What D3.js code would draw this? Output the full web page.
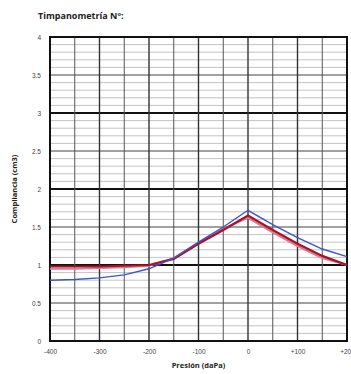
<!DOCTYPE html>
<html>
<head>
<meta charset="utf-8">
<script src="https://cdn.jsdelivr.net/npm/d3@7"></script>
<style>
  body { margin: 0; background: #fff; }
  svg { display: block; font-family: 'Open Sans', 'Liberation Sans', sans-serif; }
</style>
</head>
<body>
<div id="chart"></div>
<script>
// Pressure points (daPa)
const pressures = [-400, -350, -300, -250, -200, -150, -100, -50, 0, 50, 100, 150, 200];
// Compliance curves (cm3)
const blueValues = [0.80, 0.81, 0.83, 0.87, 0.95, 1.09, 1.30, 1.50, 1.72, 1.53, 1.36, 1.21, 1.11];
const redValues  = [0.98, 0.98, 0.98, 0.99, 1.00, 1.08, 1.28, 1.46, 1.65, 1.46, 1.28, 1.12, 1.00];
const pinkValues = [0.95, 0.95, 0.96, 0.97, 0.99, 1.09, 1.29, 1.48, 1.62, 1.43, 1.25, 1.09, 1.00];

const xTicks = [-400, -300, -200, -100, 0, 100, 200];
const yTicks = [0, 0.5, 1, 1.5, 2, 2.5, 3, 3.5, 4];

const W = 351, H = 374;
const margin = { top: 37, right: 4, bottom: 33, left: 50 };
const width = W - margin.left - margin.right;
const height = H - margin.top - margin.bottom;

const svg = d3.select('#chart')
  .append('svg')
  .attr('width', W)
  .attr('height', H);

const g = svg.append('g')
  .attr('transform', `translate(${margin.left},${margin.top})`);

const x = d3.scaleLinear().domain([-400, 200]).range([0, width]);
const y = d3.scaleLinear().domain([0, 4]).range([height, 0]);

// Horizontal grid: minor every 0.1, medium every 0.5, major every 1
d3.range(0, 41).forEach((i) => {
  const v = i / 10;
  let stroke = '#aaa', sw = 0.7;
  if (i % 10 === 0) { stroke = '#111'; sw = 2; }
  else if (i % 5 === 0) { stroke = '#444'; sw = 1.2; }
  g.append('line')
    .attr('x1', 0).attr('x2', width)
    .attr('y1', y(v)).attr('y2', y(v))
    .attr('stroke', stroke)
    .attr('stroke-width', sw);
});

// Vertical grid every 50 daPa
d3.range(-400, 201, 50).forEach((p) => {
  const major = p % 100 === 0;
  g.append('line')
    .attr('x1', x(p)).attr('x2', x(p))
    .attr('y1', 0).attr('y2', height)
    .attr('stroke', major ? '#333' : '#555')
    .attr('stroke-width', major ? 1.4 : 1);
});

// Border
g.append('rect')
  .attr('width', width)
  .attr('height', height)
  .attr('fill', 'none')
  .attr('stroke', '#111')
  .attr('stroke-width', 2);

// Axes (labels only)
const xAxis = g.append('g')
  .attr('transform', `translate(0,${height})`)
  .call(d3.axisBottom(x).tickValues(xTicks).tickSize(0).tickPadding(8)
    .tickFormat((d) => (d > 0 ? '+' + d : String(d))));
xAxis.select('.domain').remove();
xAxis.selectAll('text').attr('fill', '#444').style('font-size', '6.5px');

const yAxis = g.append('g')
  .call(d3.axisLeft(y).tickValues(yTicks).tickSize(0).tickPadding(9)
    .tickFormat((d) => String(d)));
yAxis.select('.domain').remove();
yAxis.selectAll('text').attr('fill', '#444').style('font-size', '6.5px');

// Curves
const line = d3.line()
  .x((d, i) => x(pressures[i]))
  .y((d) => y(d))
  .curve(d3.curveLinear);

g.append('path')
  .datum(pinkValues)
  .attr('fill', 'none')
  .attr('stroke', '#e07890')
  .attr('stroke-width', 2)
  .attr('d', line);

g.append('path')
  .datum(redValues)
  .attr('fill', 'none')
  .attr('stroke', '#a3132a')
  .attr('stroke-width', 2.2)
  .attr('d', line);

g.append('path')
  .datum(blueValues)
  .attr('fill', 'none')
  .attr('stroke', '#3c55c8')
  .attr('stroke-width', 1.4)
  .attr('d', line);

// Titles
svg.append('text')
  .attr('x', 38)
  .attr('y', 19)
  .style('font-size', '9px')
  .style('font-weight', 'bold')
  .attr('fill', '#222')
  .text('Timpanometría Nº:');

svg.append('text')
  .attr('x', margin.left + width / 2)
  .attr('y', 368)
  .attr('text-anchor', 'middle')
  .style('font-size', '7.5px')
  .style('font-weight', 'bold')
  .attr('fill', '#222')
  .text('Presión (daPa)');

svg.append('text')
  .attr('transform', `translate(17,${margin.top + height / 2}) rotate(-90)`)
  .attr('text-anchor', 'middle')
  .style('font-size', '7.5px')
  .style('font-weight', 'bold')
  .attr('fill', '#222')
  .text('Compliancia (cm3)');
</script>
</body>
</html>
